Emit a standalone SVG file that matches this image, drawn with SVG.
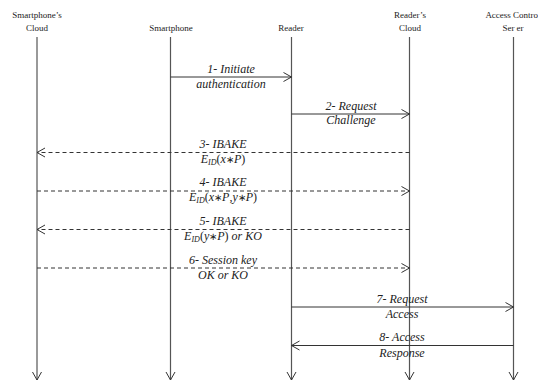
<svg xmlns="http://www.w3.org/2000/svg" width="538" height="382" viewBox="0 0 538 382">
<defs>
<marker id="ah" markerUnits="userSpaceOnUse" markerWidth="12" markerHeight="12" refX="8" refY="5" orient="auto" overflow="visible">
<path d="M0,0.5 L8,5 L0,9.5" fill="none" stroke="#333" stroke-width="1"/>
</marker>
</defs>
<style>
.hd{font-family:"Liberation Serif","Times New Roman",serif;font-size:9px;fill:#222;text-anchor:middle}
.lb{font-family:"Liberation Serif","Times New Roman",serif;font-size:12px;font-style:italic;fill:#222;text-anchor:middle}
.up{font-style:normal}
.op{font-style:normal;font-size:10px}
.sub{font-size:8px}
.life{stroke:#555;stroke-width:1.2;fill:none}
.msg{stroke:#333;stroke-width:1;fill:none;marker-end:url(#ah)}
.dash{stroke-dasharray:4,3}
</style>
<rect width="538" height="382" fill="#fff"/>
<g id="smartphone-cloud">
<text class="hd" x="37" y="18">Smartphone’s</text>
<text class="hd" x="37" y="31">Cloud</text>
<line class="life" x1="37" y1="37" x2="37" y2="380" marker-end="url(#ah)"/>
</g>
<g id="smartphone">
<text class="hd" x="171" y="31">Smartphone</text>
<line class="life" x1="170.5" y1="37" x2="170.5" y2="380" marker-end="url(#ah)"/>
</g>
<g id="reader">
<text class="hd" x="291" y="31">Reader</text>
<line class="life" x1="291.5" y1="37" x2="291.5" y2="380" marker-end="url(#ah)"/>
</g>
<g id="reader-cloud">
<text class="hd" x="410" y="18">Reader’s</text>
<text class="hd" x="410" y="31">Cloud</text>
<line class="life" x1="409.5" y1="37" x2="409.5" y2="380" marker-end="url(#ah)"/>
</g>
<g id="access-control-server">
<text class="hd" x="513" y="18">Access Control</text>
<text class="hd" x="513" y="31">Ser er</text>
<line class="life" x1="513.5" y1="37" x2="513.5" y2="380" marker-end="url(#ah)"/>
</g>
<g id="connectors">
<line class="msg" x1="170.5" y1="77" x2="291.5" y2="77"/>
<line class="msg" x1="291.5" y1="114" x2="409.5" y2="114"/>
<line class="msg dash" x1="409.5" y1="152.5" x2="37" y2="152.5"/>
<line class="msg dash" x1="37" y1="191" x2="409.5" y2="191"/>
<line class="msg dash" x1="409.5" y1="229.5" x2="37" y2="229.5"/>
<line class="msg dash" x1="37" y1="268" x2="409.5" y2="268"/>
<line class="msg" x1="291.5" y1="307" x2="513.5" y2="307"/>
<line class="msg" x1="513.5" y1="345.5" x2="291.5" y2="345.5"/>
</g>
<g id="labels">
<text class="lb" x="231" y="73">1- Initiate</text>
<text class="lb" x="231" y="88">authentication</text>
<text class="lb" x="351" y="110">2- Request</text>
<text class="lb" x="351" y="124">Challenge</text>
<text class="lb" x="223" y="148">3- IBAKE</text>
<text class="lb" x="223" y="163">E<tspan class="sub" dy="2">ID</tspan><tspan class="up" dy="-2">(</tspan>x<tspan class="op">∗</tspan>P<tspan class="up">)</tspan></text>
<text class="lb" x="223" y="186">4- IBAKE</text>
<text class="lb" x="223" y="201">E<tspan class="sub" dy="2">ID</tspan><tspan class="up" dy="-2">(</tspan>x<tspan class="op">∗</tspan>P<tspan class="up">,</tspan>y<tspan class="op">∗</tspan>P<tspan class="up">)</tspan></text>
<text class="lb" x="223" y="225">5- IBAKE</text>
<text class="lb" x="223" y="240">E<tspan class="sub" dy="2">ID</tspan><tspan class="up" dy="-2">(</tspan>y<tspan class="op">∗</tspan>P<tspan class="up">)</tspan> or KO</text>
<text class="lb" x="223" y="264">6- Session key</text>
<text class="lb" x="223" y="279">OK or KO</text>
<text class="lb" x="402" y="303">7- Request</text>
<text class="lb" x="402" y="318">Access</text>
<text class="lb" x="402" y="341">8- Access</text>
<text class="lb" x="402" y="357">Response</text>
</g>
</svg>
